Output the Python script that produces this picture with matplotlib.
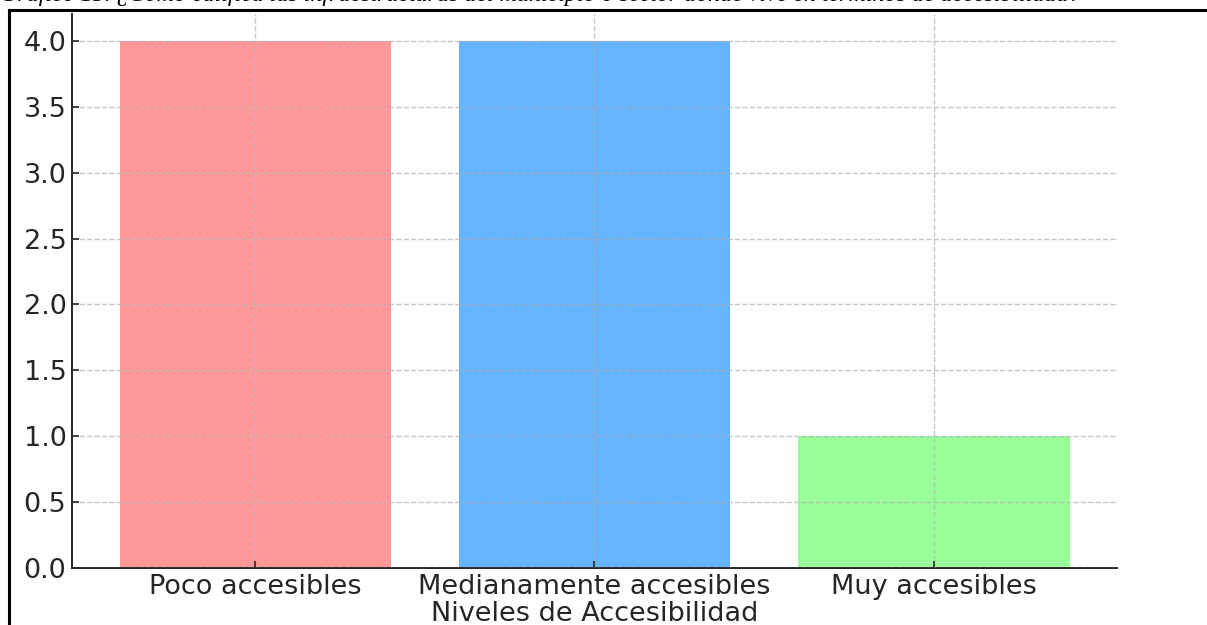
import matplotlib
matplotlib.use("Agg")
import matplotlib.pyplot as plt
from matplotlib.lines import Line2D

# data
categories = ["Poco accesibles", "Medianamente accesibles", "Muy accesibles"]
counts = [4, 4, 1]
colors = ["#ff9999", "#66b3ff", "#99ff99"]
caption = ("Gráfico 13. ¿Cómo califica las infraestructuras del municipio o sector "
           "donde vive en términos de accesibilidad?")

W, H = 1207, 625
fig = plt.figure(figsize=(W / 100, H / 100), dpi=100)
ax = fig.add_axes([72 / W, (H - 568) / H, (1117 - 72) / W, (568 - 14.5) / H])

ax.bar(categories, counts, color=colors, width=0.8, zorder=1)
ax.set_ylim(0, 4.2)
ax.set_yticks([0, 0.5, 1.0, 1.5, 2.0, 2.5, 3.0, 3.5, 4.0])
ax.grid(True, linestyle="--", color="#b0b0b0", alpha=0.7, linewidth=1, zorder=2)
ax.set_axisbelow(False)
ax.tick_params(direction="in", labelsize=19.5, length=5, width=1.2, colors="#262626", pad=4)
for side in ["top", "right"]:
    ax.spines[side].set_visible(False)
for side in ["left", "bottom"]:
    ax.spines[side].set_linewidth(1.4)
    ax.spines[side].set_color("#222222")
ax.set_xlabel("Niveles de Accesibilidad", fontsize=19.5, color="#262626", labelpad=1)

# page border from the source document
fig.add_artist(Line2D([9 / W, 1], [1 - 10 / H, 1 - 10 / H], transform=fig.transFigure,
                      color="black", linewidth=2.2))
fig.add_artist(Line2D([9 / W, 9 / W], [0, 1 - 10 / H], transform=fig.transFigure,
                      color="black", linewidth=2.2))

# caption, cut off at the top like in the screenshot
fig.text(0.0, 1 - 0.5 / H, caption, fontsize=17.3, style="italic",
         family="Liberation Serif", va="baseline", ha="left")

fig.savefig("out.png", dpi=100)
